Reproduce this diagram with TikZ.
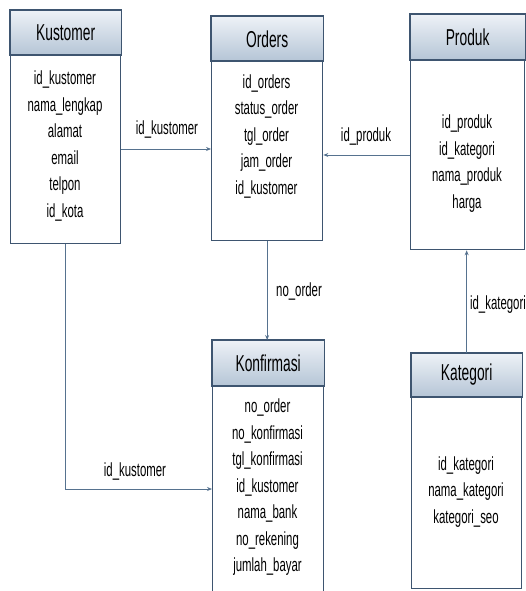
\documentclass[tikz,border=0pt]{standalone}
\usepackage{fontspec}
\setmainfont{Liberation Sans}[FakeStretch=0.6]
\usetikzlibrary{arrows.meta}
\definecolor{boxline}{HTML}{3E5570}
\definecolor{connc}{HTML}{56728F}
\definecolor{hdtop}{HTML}{EEF2F7}
\definecolor{hdbot}{HTML}{B5C5D6}
\begin{document}
\begin{tikzpicture}[x=1pt,y=-1pt,
 entity/.style={draw=boxline,line width=1.3pt,fill=white,rectangle,inner sep=0pt,anchor=north west},
 header/.style={top color=hdtop,bottom color=hdbot,draw=boxline,line width=1.3pt},
 title/.style={font=\fontsize{23}{23}\selectfont,text=black},
 attrs/.style={font=\fontsize{19}{26.5}\selectfont,align=center,text=black},
 connector/.style={draw=connc,line width=0.9pt,-{Stealth[length=5pt,width=4pt]}},
 lab/.style={font=\fontsize{19}{19}\selectfont,text=black}]
\useasboundingbox (0,0) rectangle (526,591);
% entities
\node[entity,minimum width=110pt,minimum height=233pt] (kus) at (10,10) {};
\node[entity,minimum width=111pt,minimum height=224pt] (ord) at (211,16) {};
\node[entity,minimum width=114pt,minimum height=235pt] (prod) at (410,14) {};
\node[entity,minimum width=111pt,minimum height=256pt] (konf) at (212,340) {};
\node[entity,minimum width=110pt,minimum height=235pt] (kat) at (411,353) {};
% headers
\path[header] (kus.north west) rectangle ([yshift=-45pt]kus.north east);
\path[header] (ord.north west) rectangle ([yshift=-45pt]ord.north east);
\path[header] (prod.north west) rectangle ([yshift=-46pt]prod.north east);
\path[header] (konf.north west) rectangle ([yshift=-46pt]konf.north east);
\path[header] (kat.north west) rectangle ([yshift=-44pt]kat.north east);
% titles
\node[title] (kust) at ([yshift=-23pt]kus.north) {Kustomer};
\node[title] (ordt) at ([yshift=-23pt]ord.north) {Orders};
\node[title] (prodt) at ([yshift=-23pt]prod.north) {Produk};
\node[title] (konft) at ([yshift=-23pt]konf.north) {Konfirmasi};
\node[title] (katt) at ([yshift=-22pt]kat.north) {Kategori};
% attributes
\node[attrs] (kusa) at (65,146) {id\_kustomer\\nama\_lengkap\\alamat\\email\\telpon\\id\_kota};
\node[attrs] (orda) at (266.5,136.5) {id\_orders\\status\_order\\tgl\_order\\jam\_order\\id\_kustomer};
\node[attrs] (proda) at (467,163.5) {id\_produk\\id\_kategori\\nama\_produk\\harga};
\node[attrs] (konfa) at (267.5,487.5) {no\_order\\no\_konfirmasi\\tgl\_konfirmasi\\id\_kustomer\\nama\_bank\\no\_rekening\\jumlah\_bayar};
\node[attrs] (kata) at (466,492) {id\_kategori\\nama\_kategori\\kategori\_seo};
% connectors
\coordinate (y1) at (0,149);
\coordinate (y2) at (0,155);
\coordinate (y4) at (0,489);
\draw[connector] (kus.east |- y1) -- (ord.west |- y1);
\draw[connector] (prod.west |- y2) -- (ord.east |- y2);
\draw[connector] (ord.south) -- (ord.south |- konf.north);
\draw[connector] (kus.south) |- (konf.west |- y4);
\draw[connector] (kat.north) -- (kat.north |- prod.south);
% labels
\node[lab] (l1) at (167,130) {id\_kustomer};
\node[lab] (l2) at (366,137) {id\_produk};
\node[lab] (l3) at (299,292) {no\_order};
\node[lab] (l4) at (135,471) {id\_kustomer};
\node[lab] (l5) at (498,305) {id\_kategori};
\end{tikzpicture}
\end{document}
